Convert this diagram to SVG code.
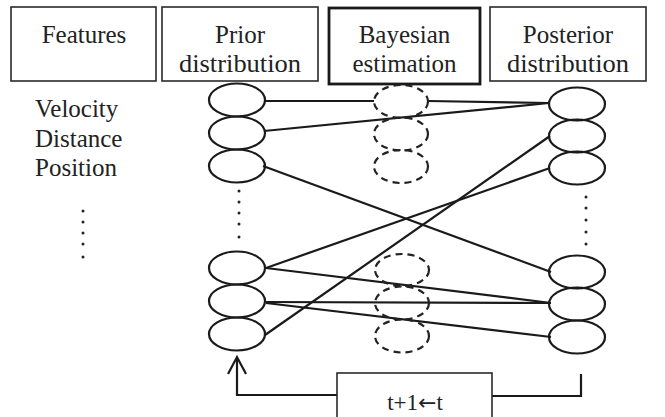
<svg xmlns="http://www.w3.org/2000/svg" width="665" height="417" viewBox="0 0 665 417">
  <defs>
    <style>
      .box { fill: #fff; stroke: #2a2a2a; stroke-width: 1.6; }
      .box-bold { fill: #fff; stroke: #1a1a1a; stroke-width: 2.8; }
      .lbl { font-family: 'Liberation Serif', 'DejaVu Serif', serif; font-size: 25px; fill: #222; text-anchor: middle; }
      .feat { font-family: 'Liberation Serif', 'DejaVu Serif', serif; font-size: 25px; fill: #222; }
      .node { fill: none; stroke: #1a1a1a; stroke-width: 2.2; }
      .est { fill: none; stroke: #222; stroke-width: 2.2; stroke-dasharray: 7 5; }
      .link { fill: none; stroke: #1a1a1a; stroke-width: 2.2; }
      .dot { fill: #222; }
    </style>
  </defs>

  <!-- header boxes -->
  <g id="features-header">
    <rect class="box" x="11" y="7" width="145" height="74"/>
    <text class="lbl" x="84" y="43">Features</text>
  </g>
  <g id="prior-header">
    <rect class="box" x="162" y="7" width="156" height="74"/>
    <text class="lbl" x="240" y="43">Prior</text>
    <text class="lbl" x="240" y="72" textLength="122" lengthAdjust="spacingAndGlyphs">distribution</text>
  </g>
  <g id="bayes-header">
    <rect class="box-bold" x="329" y="8" width="151" height="76"/>
    <text class="lbl" x="404.5" y="43">Bayesian</text>
    <text class="lbl" x="404.5" y="72">estimation</text>
  </g>
  <g id="posterior-header">
    <rect class="box" x="490" y="7" width="156" height="74"/>
    <text class="lbl" x="568" y="43">Posterior</text>
    <text class="lbl" x="568" y="72" textLength="122" lengthAdjust="spacingAndGlyphs">distribution</text>
  </g>

  <!-- feature list -->
  <g id="feature-list">
    <text class="feat" x="35" y="117">Velocity</text>
    <text class="feat" x="35" y="147">Distance</text>
    <text class="feat" x="35" y="176">Position</text>
    <circle class="dot" cx="83" cy="211" r="1.5"/>
    <circle class="dot" cx="83" cy="222" r="1.5"/>
    <circle class="dot" cx="83" cy="233" r="1.5"/>
    <circle class="dot" cx="83" cy="244" r="1.5"/>
    <circle class="dot" cx="83" cy="257" r="1.5"/>
  </g>

  <!-- connectors -->
  <g id="connectors">
    <line class="link" x1="265" y1="101" x2="374" y2="101"/>
    <line class="link" x1="428" y1="101" x2="549" y2="103"/>
    <line class="link" x1="264" y1="131" x2="549" y2="103"/>
    <line class="link" x1="263" y1="166" x2="551" y2="272"/>
    <line class="link" x1="265" y1="335" x2="550" y2="136"/>
    <line class="link" x1="266" y1="268" x2="550" y2="168"/>
    <line class="link" x1="266" y1="268" x2="551" y2="303"/>
    <line class="link" x1="266" y1="302" x2="551" y2="303"/>
    <line class="link" x1="266" y1="303" x2="551" y2="337"/>
    <!-- feedback loop back to the prior -->
    <polyline class="link" points="337,395 237,395 237,358"/>
    <polyline class="link" points="228,374 237,357 246,374"/>
    <polyline class="link" points="492,396 581,396 581,374"/>
  </g>

  <!-- prior distribution nodes -->
  <g id="prior-nodes">
    <ellipse class="node" cx="237" cy="100" rx="28" ry="16.5"/>
    <ellipse class="node" cx="237" cy="133" rx="28" ry="16.5"/>
    <ellipse class="node" cx="237" cy="166" rx="28" ry="16.5"/>
    <circle class="dot" cx="239" cy="191" r="1.5"/>
    <circle class="dot" cx="239" cy="202" r="1.5"/>
    <circle class="dot" cx="239" cy="213" r="1.5"/>
    <circle class="dot" cx="239" cy="224" r="1.5"/>
    <circle class="dot" cx="239" cy="237" r="1.5"/>
    <ellipse class="node" cx="237" cy="268" rx="28" ry="16.5"/>
    <ellipse class="node" cx="237" cy="301" rx="28" ry="16.5"/>
    <ellipse class="node" cx="237" cy="334" rx="28" ry="16.5"/>
  </g>

  <!-- estimation nodes -->
  <g id="estimation-nodes">
    <ellipse class="est" cx="401" cy="101.5" rx="27" ry="16.5"/>
    <ellipse class="est" cx="401" cy="134" rx="27" ry="16.5"/>
    <ellipse class="est" cx="401" cy="166.5" rx="27" ry="16.5"/>
    <ellipse class="est" cx="402" cy="270" rx="27" ry="16"/>
    <ellipse class="est" cx="402" cy="303" rx="27" ry="16.5"/>
    <ellipse class="est" cx="402" cy="336" rx="27" ry="16.5"/>
  </g>

  <!-- posterior distribution nodes -->
  <g id="posterior-nodes">
    <ellipse class="node" cx="577" cy="104" rx="28" ry="16.5"/>
    <ellipse class="node" cx="577" cy="136" rx="28" ry="16.5"/>
    <ellipse class="node" cx="577" cy="168" rx="28" ry="16.5"/>
    <circle class="dot" cx="586" cy="197" r="1.5"/>
    <circle class="dot" cx="586" cy="208" r="1.5"/>
    <circle class="dot" cx="586" cy="220" r="1.5"/>
    <circle class="dot" cx="586" cy="232" r="1.5"/>
    <circle class="dot" cx="586" cy="244" r="1.5"/>
    <ellipse class="node" cx="577" cy="272" rx="28" ry="16.5"/>
    <ellipse class="node" cx="577" cy="304" rx="28" ry="16.5"/>
    <ellipse class="node" cx="577" cy="337" rx="28" ry="16.5"/>
  </g>

  <!-- time step update -->
  <g id="time-step">
    <rect class="box" x="337" y="373" width="155" height="60"/>
    <text class="lbl" x="415" y="410" style="font-size:23px">t+1<tspan font-family="DejaVu Sans, sans-serif" font-size="22">←</tspan>t</text>
  </g>
</svg>
